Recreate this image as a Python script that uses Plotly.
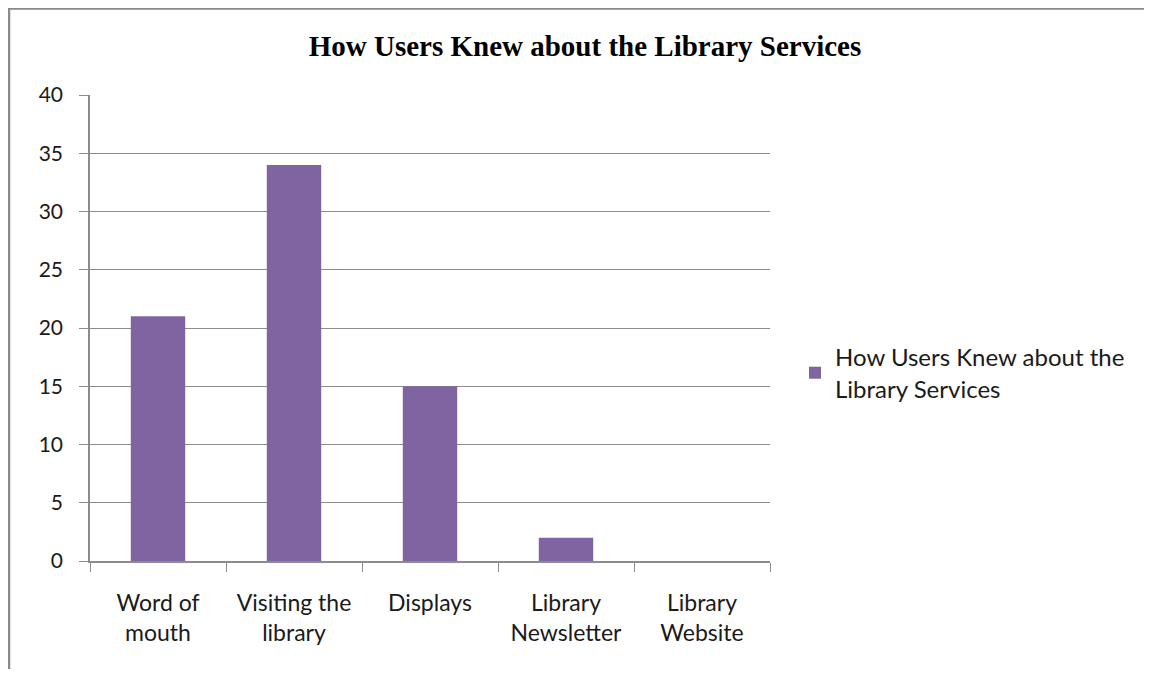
import plotly.graph_objects as go

categories = ["Word of<br>mouth", "Visiting the<br>library", "Displays", "Library<br>Newsletter", "Library<br>Website"]
values = [21, 34, 15, 2, 0]
series_name = "How Users Knew about the<br>Library Services"
title_text = "How Users Knew about the Library Services"
y_ticks = [0, 5, 10, 15, 20, 25, 30, 35, 40]

# figure coordinates (page has an 8px body margin)
W, H = 1136, 661
L, R, T, B = 82, 762, 87, 553

fig = go.Figure()
fig.add_trace(go.Bar(
    x=categories, y=values, name=series_name,
    marker=dict(color="#8064A2", line=dict(width=0)),
    showlegend=True,
))

grid = "#8c8c8c"
txt = "#1a1a1a"
fig.update_layout(
    width=W, height=H,
    margin=dict(l=L, r=W - R, t=T, b=H - B),
    paper_bgcolor="white", plot_bgcolor="white",
    bargap=0.6,
    font=dict(family="Lato, sans-serif", size=20, color=txt),
    title=dict(text="<b>" + title_text + "</b>", x=(577 / W), xanchor="center",
               y=1 - 38 / H, yanchor="middle",
               font=dict(family="Liberation Serif, Times New Roman, serif", size=29, color="black")),
    showlegend=True,
    legend=dict(x=(787 - L) / (R - L), xanchor="left", y=(B - 365) / (B - T), yanchor="middle",
                font=dict(size=24, color=txt), bgcolor="rgba(0,0,0,0)",
                itemwidth=30, tracegroupgap=0),
    xaxis=dict(
        type="category", tickson="boundaries", ticks="outside", ticklen=9, tickcolor=grid,
        showline=True, linecolor=grid, linewidth=1.5, showgrid=False,
        tickfont=dict(size=23, color=txt), ticklabelstandoff=21,
    ),
    yaxis=dict(
        range=[0, 40], tickvals=y_ticks, ticks="outside", ticklen=9, tickcolor=grid,
        showline=True, linecolor=grid, linewidth=1.5, showgrid=True, gridcolor=grid, gridwidth=1,
        zeroline=False, tickfont=dict(size=21, color=txt), ticklabelstandoff=12,
    ),
)

# chart border (top and left visible) drawn as one open polyline
px_w, px_h = R - L, B - T
def px(xp):
    return (xp - L) / px_w
def py(yp):
    return (B - yp) / px_h
border_path = f"M {px(1)},{py(H + 10)} L {px(1)},{py(0.5)} L {px(W + 10)},{py(0.5)}"
fig.add_shape(type="path", xref="paper", yref="paper", path=border_path,
              line=dict(color="#8a8a8a", width=2.5), fillcolor="rgba(0,0,0,0)")

fig.write_html("out.html")
